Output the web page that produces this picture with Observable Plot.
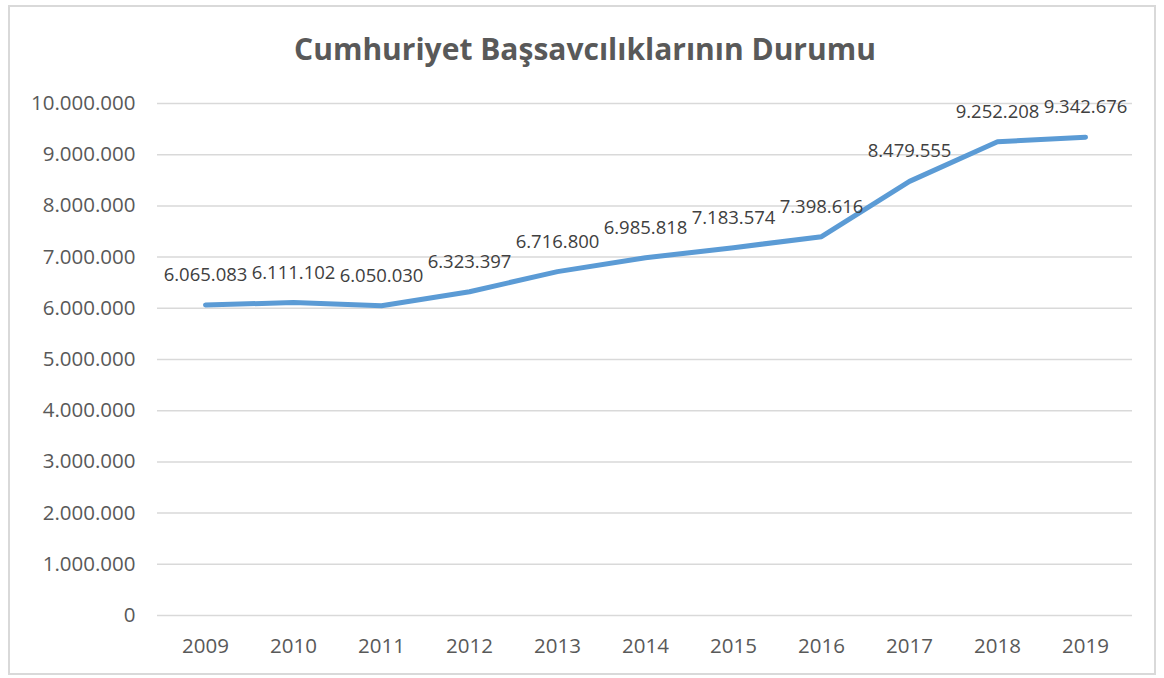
<!DOCTYPE html>
<html>
<head>
<meta charset="utf-8">
<script src="https://cdn.jsdelivr.net/npm/d3@7"></script>
<script src="https://cdn.jsdelivr.net/npm/@observablehq/plot@0.6"></script>
<style>
  html, body { margin: 0; padding: 0; background: #fff; width: 1164px; height: 678px; overflow: hidden; }
  #frame { position: absolute; left: 8px; top: 5px; width: 1148px; height: 670px; border: 2px solid #d9d9d9; box-sizing: border-box; }
  #title { position: absolute; left: 0; top: 28px; width: 1170px; text-align: center; font-family: "Open Sans", sans-serif; font-weight: bold; font-size: 30px; color: #595959; }
  #chart { position: absolute; left: 0; top: 80px; }
</style>
</head>
<body>
<div id="frame"></div>
<div id="title">Cumhuriyet Başsavcılıklarının Durumu</div>
<div id="chart"></div>
<script>
const years = ["2009","2010","2011","2012","2013","2014","2015","2016","2017","2018","2019"];
const values = [6065083, 6111102, 6050030, 6323397, 6716800, 6985818, 7183574, 7398616, 8479555, 9252208, 9342676];
const yTicks = [0,1000000,2000000,3000000,4000000,5000000,6000000,7000000,8000000,9000000,10000000];

const locale = d3.formatLocale({decimal: ",", thousands: ".", grouping: [3], currency: ["", ""]});
const fmt = locale.format(",d");
const data = years.map((y, i) => ({year: y, value: values[i]}));

const chart = Plot.plot({
  width: 1164,
  height: 598,
  marginTop: 23,
  marginBottom: 63,
  marginLeft: 157,
  marginRight: 32,
  style: {fontFamily: "Open Sans, sans-serif", fontSize: "20.5px", color: "#595959", background: "transparent"},
  x: {type: "point", domain: years, padding: 0.5, label: null, tickSize: 0, tickPadding: 23},
  y: {domain: [0, 10000000], ticks: yTicks, tickFormat: fmt, label: null, tickSize: 0, tickPadding: 22},
  marks: [
    Plot.gridY(yTicks, {stroke: "#d9d9d9", strokeOpacity: 1, strokeWidth: 1.5}),
    Plot.line(data, {x: "year", y: "value", stroke: "#5b9bd5", strokeWidth: 5, strokeLinejoin: "round", strokeLinecap: "round"}),
    Plot.text(data, {x: "year", y: "value", text: d => fmt(d.value), dy: -30, fill: "#404040", fontSize: 18.5})
  ]
});
document.getElementById("chart").appendChild(chart);
</script>
</body>
</html>
